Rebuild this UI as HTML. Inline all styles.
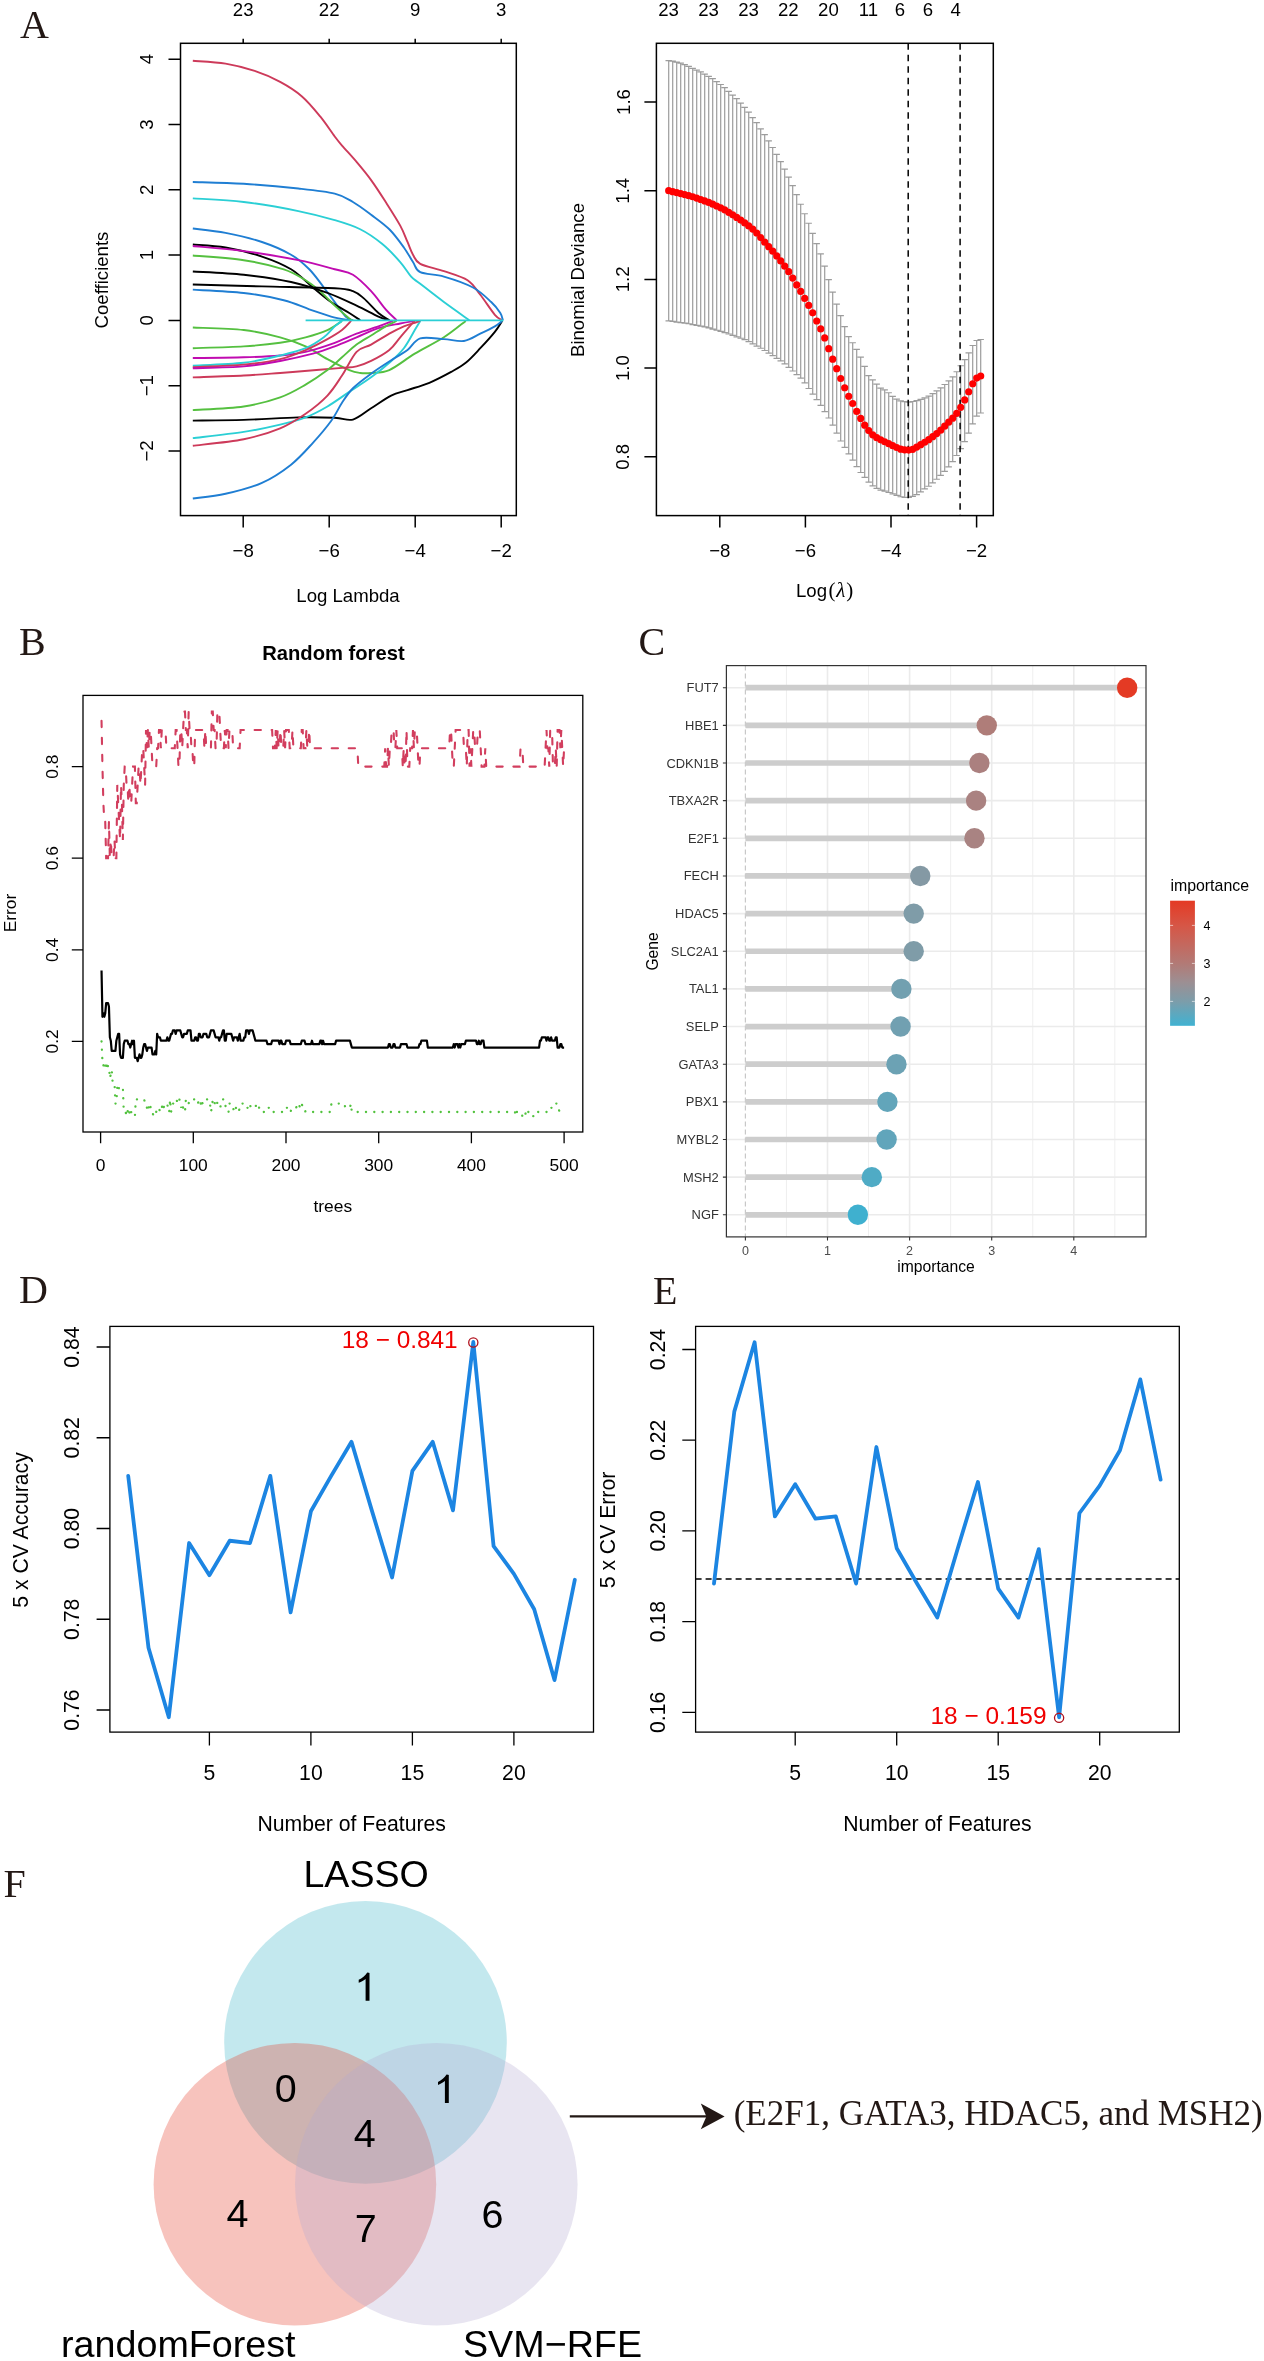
<!DOCTYPE html>
<html><head><meta charset="utf-8"><style>
html,body{margin:0;padding:0;background:#fff;}
svg{display:block;will-change:transform;}
svg{font-family:"Liberation Sans",sans-serif;}
</style></head><body>
<svg width="1264" height="2361" viewBox="0 0 1264 2361">
<rect width="1264" height="2361" fill="#fff"/>
<text x="20" y="38" font-size="40" text-anchor="start" fill="#231815" style="font-family:'Liberation Serif'">A</text>
<g fill="none" stroke-width="1.9" stroke-linejoin="round">
<path d="M192.81,60.77 C198.27,61.26 215.25,61.98 225.56,63.68 C235.87,65.38 245.57,67.93 254.67,70.96 C263.77,73.99 272.26,77.63 280.15,81.88 C288.03,86.12 295.31,90.67 301.98,96.43 C308.65,102.2 314.72,109.78 320.17,116.45 C325.63,123.12 331.09,131.61 334.73,136.46 C338.37,141.31 338.37,141.31 342.01,145.56 C345.65,149.81 351.71,156.17 356.56,161.94 C361.42,167.7 366.27,173.46 371.12,180.13 C375.97,186.8 380.82,194.38 385.68,201.97 C390.53,209.55 396.59,218.95 400.23,225.62 C403.87,232.29 405.39,237.14 407.51,241.99 C409.63,246.85 410.85,251.09 412.97,254.73 C415.09,258.37 415.09,261.1 420.25,263.83 C425.4,266.56 436.02,268.38 443.9,271.11 C451.79,273.84 461.49,276.26 467.55,280.2 C473.62,284.15 475.74,289 480.29,294.76 C484.84,300.52 491.21,310.53 494.85,314.77 C498.49,319.02 500.91,319.32 502.13,320.23" stroke="#CD3A5A"/>
<path d="M192.81,181.95 C201.3,182.25 226.17,182.68 243.76,183.77 C261.34,184.86 283.18,186.86 298.34,188.5 C313.5,190.14 325.63,191.35 334.73,193.6 C343.83,195.84 346.86,198.45 352.93,201.97 C358.99,205.48 365.06,210.15 371.12,214.7 C377.19,219.25 383.86,223.8 389.32,229.26 C394.77,234.72 399.93,241.99 403.87,247.45 C407.81,252.91 410.24,257.88 412.97,262.01 C415.7,266.13 415.09,269.77 420.25,272.2 C425.4,274.62 435.11,274.02 443.9,276.56 C452.7,279.11 465.13,283.24 473.01,287.48 C480.9,291.73 486.66,297.79 491.21,302.04 C495.76,306.28 498.36,309.92 500.31,312.95 C502.25,315.99 502.43,319.02 502.85,320.23" stroke="#1F7ED3"/>
<path d="M192.81,198.33 C201.3,198.93 226.17,199.84 243.76,201.97 C261.34,204.09 283.18,208.03 298.34,211.06 C313.5,214.1 324.42,217.13 334.73,220.16 C345.04,223.19 352.32,225.32 360.2,229.26 C368.09,233.2 375.37,238.36 382.04,243.81 C388.71,249.27 395.38,256.55 400.23,262.01 C405.08,267.47 407.81,272.93 411.15,276.56 C414.49,280.2 414.79,279.6 420.25,283.84 C425.71,288.09 435.71,295.97 443.9,302.04 C452.09,308.1 465.13,317.2 469.37,320.23" stroke="#2BCFD5"/>
<path d="M192.81,228.53 C198.27,229.26 214.04,230.65 225.56,232.9 C237.08,235.14 251.03,238.36 261.95,241.99 C272.87,245.63 283.18,250.18 291.06,254.73 C298.95,259.28 303.8,263.83 309.26,269.29 C314.72,274.75 319.57,282.02 323.81,287.48 C328.06,292.94 331.09,297.19 334.73,302.04 C338.37,306.89 342.62,313.56 345.65,316.59 C348.68,319.63 351.71,319.63 352.93,320.23" stroke="#1F7ED3"/>
<path d="M192.81,244.54 C198.27,245.03 214.04,245.45 225.56,247.45 C237.08,249.45 251.03,252.91 261.95,256.55 C272.87,260.19 282.57,264.13 291.06,269.29 C299.55,274.44 306.23,282.02 312.9,287.48 C319.57,292.94 325.03,297.79 331.09,302.04 C337.16,306.28 344.43,309.92 349.29,312.95 C354.14,315.99 358.38,319.02 360.2,320.23" stroke="#000"/>
<path d="M192.81,246 C201.3,246.85 226.17,248.73 243.76,251.09 C261.34,253.46 283.18,257.16 298.34,260.19 C313.5,263.22 325.63,266.86 334.73,269.29 C343.83,271.71 346.86,271.11 352.93,274.75 C358.99,278.38 365.66,285.36 371.12,291.12 C376.58,296.88 381.43,304.46 385.68,309.32 C389.92,314.17 394.77,318.41 396.59,320.23" stroke="#C00BB0"/>
<path d="M192.81,255.46 C201.3,256.25 228.59,257.88 243.76,260.19 C258.92,262.49 273.47,265.95 283.78,269.29 C294.1,272.62 299.55,276.56 305.62,280.2 C311.68,283.84 315.32,286.88 320.17,291.12 C325.03,295.37 329.88,301.13 334.73,305.68 C339.58,310.23 346.25,315.99 349.29,318.41 C352.32,320.84 352.32,319.93 352.93,320.23" stroke="#55C040"/>
<path d="M192.81,271.47 C201.3,272.02 227.38,272.99 243.76,274.75 C260.13,276.5 277.11,278.99 291.06,282.02 C305.01,285.06 316.54,289 327.45,292.94 C338.37,296.88 348.07,301.73 356.56,305.68 C365.06,309.62 372.94,314.17 378.4,316.59 C383.86,319.02 387.5,319.63 389.32,320.23" stroke="#000"/>
<path d="M192.81,284.57 C204.33,284.87 238.3,285.78 261.95,286.39 C285.6,287 319.57,287.42 334.73,288.21 C349.89,289 348.07,289.42 352.93,291.12 C357.78,292.82 359.6,294.76 363.84,298.4 C368.09,302.04 374.15,309.32 378.4,312.95 C382.64,316.59 387.5,319.02 389.32,320.23" stroke="#000"/>
<path d="M192.81,289.67 C201.3,290.21 228.59,291.18 243.76,292.94 C258.92,294.7 272.87,297.49 283.78,300.22 C294.7,302.95 301.37,306.59 309.26,309.32 C317.14,312.05 324.42,314.77 331.09,316.59 C337.76,318.41 346.25,319.63 349.29,320.23" stroke="#1F7ED3"/>
<path d="M192.81,327.48 C201.3,327.91 229.2,328.39 243.76,330.03 C258.31,331.67 269.84,334.58 280.15,337.31 C290.46,340.04 297.73,342.77 305.62,346.4 C313.5,350.04 320.17,355.2 327.45,359.14 C334.73,363.08 343.83,367.75 349.29,370.06 C354.75,372.36 356.56,372.48 360.2,372.97 C363.84,373.45 366.27,373.45 371.12,372.97 C375.97,372.48 382.04,373.27 389.32,370.06 C396.59,366.84 405.69,359.14 414.79,353.68 C423.89,348.22 435.41,342.77 443.9,337.31 C452.39,331.85 462.1,323.66 465.74,320.93" stroke="#55C040"/>
<path d="M192.81,348.22 C201.3,347.92 229.2,347.31 243.76,346.4 C258.31,345.49 269.84,344.28 280.15,342.77 C290.46,341.25 297.73,339.43 305.62,337.31 C313.5,335.18 321.39,332.76 327.45,330.03 C333.52,327.3 339.58,322.45 342.01,320.93" stroke="#55C040"/>
<path d="M192.81,358.05 C201.3,357.93 229.2,357.75 243.76,357.32 C258.31,356.9 269.84,356.41 280.15,355.5 C290.46,354.59 296.52,353.99 305.62,351.86 C314.72,349.74 326.24,345.8 334.73,342.77 C343.22,339.73 349.29,336.4 356.56,333.67 C363.84,330.94 372.33,328.51 378.4,326.39 C384.46,324.27 390.53,321.84 392.95,320.93" stroke="#C00BB0"/>
<path d="M192.81,365.69 C201.3,365.21 229.2,364.48 243.76,362.78 C258.31,361.08 269.84,357.93 280.15,355.5 C290.46,353.08 298.34,351.26 305.62,348.22 C312.9,345.19 318.96,340.95 323.81,337.31 C328.67,333.67 331.7,329.12 334.73,326.39 C337.76,323.66 340.8,321.84 342.01,320.93" stroke="#2BCFD5"/>
<path d="M192.81,367.15 C201.3,366.72 229.2,365.93 243.76,364.6 C258.31,363.27 269.84,361.57 280.15,359.14 C290.46,356.72 297.73,353.38 305.62,350.04 C313.5,346.71 321.39,342.46 327.45,339.13 C333.52,335.79 338.07,333.06 342.01,330.03 C345.95,327 349.59,322.45 351.11,320.93" stroke="#CD3A5A"/>
<path d="M192.81,368.24 C201.3,367.94 229.2,367.63 243.76,366.42 C258.31,365.21 268.62,363.08 280.15,360.96 C291.67,358.84 303.8,356.11 312.9,353.68 C321.99,351.26 327.45,349.13 334.73,346.4 C342.01,343.68 349.29,340.34 356.56,337.31 C363.84,334.27 371.12,330.51 378.4,328.21 C385.68,325.9 394.17,324.69 400.23,323.48 C406.3,322.27 412.36,321.36 414.79,320.93" stroke="#C00BB0"/>
<path d="M192.81,377.34 C201.3,377.03 229.2,376.24 243.76,375.52 C258.31,374.79 268.02,373.88 280.15,372.97 C292.28,372.06 306.23,370.91 316.54,370.06 C326.85,369.21 335.34,368.48 342.01,367.87 C348.68,367.27 351.71,367.57 356.56,366.42 C361.42,365.27 365.66,363.69 371.12,360.96 C376.58,358.23 384.46,353.99 389.32,350.04 C394.17,346.1 396.59,341.55 400.23,337.31 C403.87,333.06 408.72,327.3 411.15,324.57 C413.58,321.84 414.18,321.54 414.79,320.93" stroke="#CD3A5A"/>
<path d="M192.81,410.09 C201.3,409.48 229.2,408.57 243.76,406.45 C258.31,404.33 269.84,400.99 280.15,397.35 C290.46,393.71 297.73,389.16 305.62,384.61 C313.5,380.07 321.39,374.61 327.45,370.06 C333.52,365.51 337.16,361.57 342.01,357.32 C346.86,353.08 351.71,348.22 356.56,344.59 C361.42,340.95 366.27,338.52 371.12,335.49 C375.97,332.46 381.43,328.82 385.68,326.39 C389.92,323.96 394.77,321.84 396.59,320.93" stroke="#55C040"/>
<path d="M192.81,420.64 C201.3,420.52 226.17,420.46 243.76,419.91 C261.34,419.37 283.18,417.73 298.34,417.37 C313.5,417 325.63,417.37 334.73,417.73 C343.83,418.09 346.86,421.13 352.93,419.55 C358.99,417.97 364.75,412.27 371.12,408.27 C377.49,404.26 385.07,398.56 391.14,395.53 C397.2,392.5 401.14,392.2 407.51,390.07 C413.88,387.95 422.07,385.83 429.34,382.79 C436.62,379.76 445.11,375.21 451.18,371.88 C457.24,368.54 460.88,366.72 465.74,362.78 C470.59,358.84 475.44,353.38 480.29,348.22 C485.14,343.07 491.21,336.4 494.85,331.85 C498.49,327.3 500.91,322.75 502.13,320.93" stroke="#000"/>
<path d="M192.81,438.11 C201.3,437.08 229.2,434.17 243.76,431.92 C258.31,429.68 269.84,427.07 280.15,424.64 C290.46,422.22 297.73,420.4 305.62,417.37 C313.5,414.33 320.17,410.69 327.45,406.45 C334.73,402.2 342.01,396.74 349.29,391.89 C356.56,387.04 364.45,382.19 371.12,377.34 C377.79,372.48 383.86,367.63 389.32,362.78 C394.77,357.93 399.63,353.68 403.87,348.22 C408.12,342.77 412.06,334.58 414.79,330.03 C417.52,325.48 419.34,322.45 420.25,320.93" stroke="#2BCFD5"/>
<path d="M192.81,445.75 C201.3,444.66 229.2,442.11 243.76,439.2 C258.31,436.29 269.84,432.53 280.15,428.28 C290.46,424.04 297.73,419.18 305.62,413.73 C313.5,408.27 321.39,401.9 327.45,395.53 C333.52,389.16 337.16,382.79 342.01,375.52 C346.86,368.24 351.71,357.02 356.56,351.86 C361.42,346.71 365.66,347.62 371.12,344.59 C376.58,341.55 383.86,336.7 389.32,333.67 C394.77,330.64 399.63,328.21 403.87,326.39 C408.12,324.57 412.06,323.66 414.79,322.75 C417.52,321.84 419.34,321.23 420.25,320.93" stroke="#CD3A5A"/>
<path d="M192.81,498.52 C198.27,497.73 214.04,496.39 225.56,493.78 C237.08,491.18 251.03,487.72 261.95,482.87 C272.87,478.02 282.57,471.34 291.06,464.67 C299.55,458 306.23,450.12 312.9,442.84 C319.57,435.56 326.24,427.68 331.09,421 C335.94,414.33 338.37,408.27 342.01,402.81 C345.65,397.35 348.07,393.11 352.93,388.25 C357.78,383.4 364.45,378.55 371.12,373.7 C377.79,368.85 386.89,363.08 392.95,359.14 C399.02,355.2 402.96,353.5 407.51,350.04 C412.06,346.59 414.18,340.22 420.25,338.4 C426.31,336.58 436.62,338.7 443.9,339.13 C451.18,339.55 457.85,341.86 463.92,340.95 C469.98,340.04 475.14,336.09 480.29,333.67 C485.45,331.24 491.21,328.51 494.85,326.39 C498.49,324.27 500.91,321.84 502.13,320.93" stroke="#1F7ED3"/>
<path d="M305.6,320.4 H503.5" stroke="#2BCFD5"/>
</g>
<rect x="180.5" y="43.3" width="335.8" height="472.3" fill="none" stroke="#000" stroke-width="1.5"/>
<path d="M243.2,515.6 V527.6 M243.2,43.3 V38.8 M329.2,515.6 V527.6 M329.2,43.3 V38.8 M415.2,515.6 V527.6 M415.2,43.3 V38.8 M501.2,515.6 V527.6 M501.2,43.3 V38.8 M180.5,451 H168.5 M180.5,385.7 H168.5 M180.5,320.4 H168.5 M180.5,255.1 H168.5 M180.5,189.8 H168.5 M180.5,124.5 H168.5 M180.5,59.2 H168.5 " stroke="#000" stroke-width="1.5"/>
<text x="243.2" y="557" font-size="18.6" text-anchor="middle" fill="#000">&#8722;8</text>
<text x="329.2" y="557" font-size="18.6" text-anchor="middle" fill="#000">&#8722;6</text>
<text x="415.2" y="557" font-size="18.6" text-anchor="middle" fill="#000">&#8722;4</text>
<text x="501.2" y="557" font-size="18.6" text-anchor="middle" fill="#000">&#8722;2</text>
<text x="243.2" y="16.3" font-size="18.6" text-anchor="middle" fill="#000">23</text>
<text x="329.2" y="16.3" font-size="18.6" text-anchor="middle" fill="#000">22</text>
<text x="415.2" y="16.3" font-size="18.6" text-anchor="middle" fill="#000">9</text>
<text x="501.2" y="16.3" font-size="18.6" text-anchor="middle" fill="#000">3</text>
<text x="153" y="451" font-size="18.6" text-anchor="middle" fill="#000" transform="rotate(-90 153 451)">&#8722;2</text>
<text x="153" y="385.7" font-size="18.6" text-anchor="middle" fill="#000" transform="rotate(-90 153 385.7)">&#8722;1</text>
<text x="153" y="320.4" font-size="18.6" text-anchor="middle" fill="#000" transform="rotate(-90 153 320.4)">0</text>
<text x="153" y="255.1" font-size="18.6" text-anchor="middle" fill="#000" transform="rotate(-90 153 255.1)">1</text>
<text x="153" y="189.8" font-size="18.6" text-anchor="middle" fill="#000" transform="rotate(-90 153 189.8)">2</text>
<text x="153" y="124.5" font-size="18.6" text-anchor="middle" fill="#000" transform="rotate(-90 153 124.5)">3</text>
<text x="153" y="59.2" font-size="18.6" text-anchor="middle" fill="#000" transform="rotate(-90 153 59.2)">4</text>
<text x="348" y="601.5" font-size="18.6" text-anchor="middle" fill="#000">Log Lambda</text>
<text x="108" y="280" font-size="18.6" text-anchor="middle" fill="#000" transform="rotate(-90 108 280)">Coefficients</text>
<path d="M668.7,60.6 V320.9 M665.5,60.6 H671.9 M665.5,320.9 H671.9 M672.7,61.12 V321.47 M669.5,61.12 H675.9 M669.5,321.47 H675.9 M676.7,62.03 V322.03 M673.5,62.03 H679.9 M673.5,322.03 H679.9 M680.7,63.1 V322.6 M677.5,63.1 H683.9 M677.5,322.6 H683.9 M684.7,64.66 V323.16 M681.5,64.66 H687.9 M681.5,323.16 H687.9 M688.7,66.46 V323.74 M685.5,66.46 H691.9 M685.5,323.74 H691.9 M692.7,68.4 V324.54 M689.5,68.4 H695.9 M689.5,324.54 H695.9 M696.7,70.17 V325.34 M693.5,70.17 H699.9 M693.5,325.34 H699.9 M700.7,71.92 V326.14 M697.5,71.92 H703.9 M697.5,326.14 H703.9 M704.7,74.22 V326.94 M701.5,74.22 H707.9 M701.5,326.94 H707.9 M708.7,76.34 V327.86 M705.5,76.34 H711.9 M705.5,327.86 H711.9 M712.7,78.63 V329.06 M709.5,78.63 H715.9 M709.5,329.06 H715.9 M716.7,81.55 V330.26 M713.5,81.55 H719.9 M713.5,330.26 H719.9 M720.7,84.5 V331.46 M717.5,84.5 H723.9 M717.5,331.46 H723.9 M724.7,87.72 V332.66 M721.5,87.72 H727.9 M721.5,332.66 H727.9 M728.7,91.4 V333.98 M725.5,91.4 H731.9 M725.5,333.98 H731.9 M732.7,95.09 V335.4 M729.5,95.09 H735.9 M729.5,335.4 H735.9 M736.7,98.6 V336.82 M733.5,98.6 H739.9 M733.5,336.82 H739.9 M740.7,103.11 V338.23 M737.5,103.11 H743.9 M737.5,338.23 H743.9 M744.7,107.34 V339.65 M741.5,107.34 H747.9 M741.5,339.65 H747.9 M748.7,112.2 V341.71 M745.5,112.2 H751.9 M745.5,341.71 H751.9 M752.7,117.53 V343.9 M749.5,117.53 H755.9 M749.5,343.9 H755.9 M756.7,122.7 V346.09 M753.5,122.7 H759.9 M753.5,346.09 H759.9 M760.7,128.84 V348.27 M757.5,128.84 H763.9 M757.5,348.27 H763.9 M764.7,134.6 V350.5 M761.5,134.6 H767.9 M761.5,350.5 H767.9 M768.7,140.84 V353.11 M765.5,140.84 H771.9 M765.5,353.11 H771.9 M772.7,147.5 V355.72 M769.5,147.5 H775.9 M769.5,355.72 H775.9 M776.7,154.4 V358.33 M773.5,154.4 H779.9 M773.5,358.33 H779.9 M780.7,161.6 V360.94 M777.5,161.6 H783.9 M777.5,360.94 H783.9 M784.7,169.1 V363.86 M781.5,169.1 H787.9 M781.5,363.86 H787.9 M788.7,177.1 V367.44 M785.5,177.1 H791.9 M785.5,367.44 H791.9 M792.7,185.7 V371.02 M789.5,185.7 H795.9 M789.5,371.02 H795.9 M796.7,194.6 V374.6 M793.5,194.6 H799.9 M793.5,374.6 H799.9 M800.7,204.24 V378.18 M797.5,204.24 H803.9 M797.5,378.18 H803.9 M804.7,213.74 V382.92 M801.5,213.74 H807.9 M801.5,382.92 H807.9 M808.7,223.25 V388.52 M805.5,223.25 H811.9 M805.5,388.52 H811.9 M812.7,233.31 V394.12 M809.5,233.31 H815.9 M809.5,394.12 H815.9 M816.7,243.57 V399.72 M813.5,243.57 H819.9 M813.5,399.72 H819.9 M820.7,253.91 V405.32 M817.5,253.91 H823.9 M817.5,405.32 H823.9 M824.7,266.17 V411.58 M821.5,266.17 H827.9 M821.5,411.58 H827.9 M828.7,279.54 V417.98 M825.5,279.54 H831.9 M825.5,417.98 H831.9 M832.7,292.2 V425.1 M829.5,292.2 H835.9 M829.5,425.1 H835.9 M836.7,304.08 V433.1 M833.5,304.08 H839.9 M833.5,433.1 H839.9 M840.7,315.68 V440.98 M837.5,315.68 H843.9 M837.5,440.98 H843.9 M844.7,326.66 V447.38 M841.5,326.66 H847.9 M841.5,447.38 H847.9 M848.7,336.7 V453.78 M845.5,336.7 H851.9 M845.5,453.78 H851.9 M852.7,342.73 V460.18 M849.5,342.73 H855.9 M849.5,460.18 H855.9 M856.7,349.32 V466.58 M853.5,349.32 H859.9 M853.5,466.58 H859.9 M860.7,357.12 V472.48 M857.5,357.12 H863.9 M857.5,472.48 H863.9 M864.7,366.41 V477.33 M861.5,366.41 H867.9 M861.5,477.33 H867.9 M868.7,375.67 V482.18 M865.5,375.67 H871.9 M865.5,482.18 H871.9 M872.7,379.8 V485.83 M869.5,379.8 H875.9 M869.5,485.83 H875.9 M876.7,384.12 V488.31 M873.5,384.12 H879.9 M873.5,488.31 H879.9 M880.7,388.16 V490.08 M877.5,388.16 H883.9 M877.5,490.08 H883.9 M884.7,389.91 V491.19 M881.5,389.91 H887.9 M881.5,491.19 H887.9 M888.7,392.74 V492.5 M885.5,392.74 H891.9 M885.5,492.5 H891.9 M892.7,396.29 V493.86 M889.5,396.29 H895.9 M889.5,493.86 H895.9 M896.7,399.1 V495.42 M893.5,399.1 H899.9 M893.5,495.42 H899.9 M900.7,400.87 V496.77 M897.5,400.87 H903.9 M897.5,496.77 H903.9 M904.7,401.66 V497.5 M901.5,401.66 H907.9 M901.5,497.5 H907.9 M908.7,402.04 V497.39 M905.5,402.04 H911.9 M905.5,497.39 H911.9 M912.7,401.52 V496.42 M909.5,401.52 H915.9 M909.5,496.42 H915.9 M916.7,400.67 V494.63 M913.5,400.67 H919.9 M913.5,494.63 H919.9 M920.7,399.33 V491.87 M917.5,399.33 H923.9 M917.5,491.87 H923.9 M924.7,397.86 V488.93 M921.5,397.86 H927.9 M921.5,488.93 H927.9 M928.7,396.09 V486.23 M925.5,396.09 H931.9 M925.5,486.23 H931.9 M932.7,393.6 V482.8 M929.5,393.6 H935.9 M929.5,482.8 H935.9 M936.7,390.9 V479.27 M933.5,390.9 H939.9 M933.5,479.27 H939.9 M940.7,387.97 V475.3 M937.5,387.97 H943.9 M937.5,475.3 H943.9 M944.7,384.51 V471.29 M941.5,384.51 H947.9 M941.5,471.29 H947.9 M948.7,380.9 V466.82 M945.5,380.9 H951.9 M945.5,466.82 H951.9 M952.7,376.78 V461.65 M949.5,376.78 H955.9 M949.5,461.65 H955.9 M956.7,371.75 V455.52 M953.5,371.75 H959.9 M953.5,455.52 H959.9 M960.7,365.73 V448.72 M957.5,365.73 H963.9 M957.5,448.72 H963.9 M964.7,359.57 V441.58 M961.5,359.57 H967.9 M961.5,441.58 H967.9 M968.7,352.97 V433.21 M965.5,352.97 H971.9 M965.5,433.21 H971.9 M972.7,345.48 V423.81 M969.5,345.48 H975.9 M969.5,423.81 H975.9 M976.7,340.52 V416.09 M973.5,340.52 H979.9 M973.5,416.09 H979.9 M980.7,339.5 V413 M977.5,339.5 H983.9 M977.5,413 H983.9 " stroke="#9C9C9C" stroke-width="1.2" fill="none"/>
<path d="M908.2,43.3 V515.6" stroke="#000" stroke-width="1.5" stroke-dasharray="6.5,5"/>
<path d="M960.1,43.3 V515.6" stroke="#000" stroke-width="1.5" stroke-dasharray="6.5,5"/>
<g fill="#FF0000">
<circle cx="668.7" cy="190.7" r="3.6"/>
<circle cx="672.7" cy="191.66" r="3.6"/>
<circle cx="676.7" cy="192.62" r="3.6"/>
<circle cx="680.7" cy="193.58" r="3.6"/>
<circle cx="684.7" cy="194.57" r="3.6"/>
<circle cx="688.7" cy="195.63" r="3.6"/>
<circle cx="692.7" cy="196.77" r="3.6"/>
<circle cx="696.7" cy="198.12" r="3.6"/>
<circle cx="700.7" cy="199.49" r="3.6"/>
<circle cx="704.7" cy="200.91" r="3.6"/>
<circle cx="708.7" cy="202.43" r="3.6"/>
<circle cx="712.7" cy="204.2" r="3.6"/>
<circle cx="716.7" cy="205.99" r="3.6"/>
<circle cx="720.7" cy="207.82" r="3.6"/>
<circle cx="724.7" cy="209.85" r="3.6"/>
<circle cx="728.7" cy="212.28" r="3.6"/>
<circle cx="732.7" cy="214.79" r="3.6"/>
<circle cx="736.7" cy="217.42" r="3.6"/>
<circle cx="740.7" cy="220.11" r="3.6"/>
<circle cx="744.7" cy="222.9" r="3.6"/>
<circle cx="748.7" cy="225.88" r="3.6"/>
<circle cx="752.7" cy="229.12" r="3.6"/>
<circle cx="756.7" cy="232.98" r="3.6"/>
<circle cx="760.7" cy="237.61" r="3.6"/>
<circle cx="764.7" cy="242.13" r="3.6"/>
<circle cx="768.7" cy="246.64" r="3.6"/>
<circle cx="772.7" cy="251.15" r="3.6"/>
<circle cx="776.7" cy="255.96" r="3.6"/>
<circle cx="780.7" cy="260.93" r="3.6"/>
<circle cx="784.7" cy="266.2" r="3.6"/>
<circle cx="788.7" cy="271.7" r="3.6"/>
<circle cx="792.7" cy="278.1" r="3.6"/>
<circle cx="796.7" cy="284.9" r="3.6"/>
<circle cx="800.7" cy="291.38" r="3.6"/>
<circle cx="804.7" cy="298.38" r="3.6"/>
<circle cx="808.7" cy="305.38" r="3.6"/>
<circle cx="812.7" cy="312.81" r="3.6"/>
<circle cx="816.7" cy="320.99" r="3.6"/>
<circle cx="820.7" cy="328.95" r="3.6"/>
<circle cx="824.7" cy="337.94" r="3.6"/>
<circle cx="828.7" cy="348.67" r="3.6"/>
<circle cx="832.7" cy="359.21" r="3.6"/>
<circle cx="836.7" cy="368.65" r="3.6"/>
<circle cx="840.7" cy="378.5" r="3.6"/>
<circle cx="844.7" cy="387.73" r="3.6"/>
<circle cx="848.7" cy="396.26" r="3.6"/>
<circle cx="852.7" cy="403.5" r="3.6"/>
<circle cx="856.7" cy="411.45" r="3.6"/>
<circle cx="860.7" cy="418.41" r="3.6"/>
<circle cx="864.7" cy="425.21" r="3.6"/>
<circle cx="868.7" cy="430.54" r="3.6"/>
<circle cx="872.7" cy="434.87" r="3.6"/>
<circle cx="876.7" cy="437.7" r="3.6"/>
<circle cx="880.7" cy="439.81" r="3.6"/>
<circle cx="884.7" cy="441.75" r="3.6"/>
<circle cx="888.7" cy="443.72" r="3.6"/>
<circle cx="892.7" cy="445.7" r="3.6"/>
<circle cx="896.7" cy="447.52" r="3.6"/>
<circle cx="900.7" cy="449.16" r="3.6"/>
<circle cx="904.7" cy="449.83" r="3.6"/>
<circle cx="908.7" cy="450.04" r="3.6"/>
<circle cx="912.7" cy="449.37" r="3.6"/>
<circle cx="916.7" cy="447.05" r="3.6"/>
<circle cx="920.7" cy="444.69" r="3.6"/>
<circle cx="924.7" cy="442.25" r="3.6"/>
<circle cx="928.7" cy="439.65" r="3.6"/>
<circle cx="932.7" cy="436.71" r="3.6"/>
<circle cx="936.7" cy="433.55" r="3.6"/>
<circle cx="940.7" cy="430.18" r="3.6"/>
<circle cx="944.7" cy="426.2" r="3.6"/>
<circle cx="948.7" cy="422.2" r="3.6"/>
<circle cx="952.7" cy="418.15" r="3.6"/>
<circle cx="956.7" cy="413.47" r="3.6"/>
<circle cx="960.7" cy="407.37" r="3.6"/>
<circle cx="964.7" cy="399.89" r="3.6"/>
<circle cx="968.7" cy="391.76" r="3.6"/>
<circle cx="972.7" cy="383.74" r="3.6"/>
<circle cx="976.7" cy="378.04" r="3.6"/>
<circle cx="980.7" cy="376" r="3.6"/>
</g>
<rect x="656.4" y="43.3" width="336.9" height="472.3" fill="none" stroke="#000" stroke-width="1.5"/>
<path d="M719.8,515.6 V527.6 M805.4,515.6 V527.6 M891,515.6 V527.6 M976.6,515.6 V527.6 M656.4,456.8 H644.4 M656.4,368.1 H644.4 M656.4,279.4 H644.4 M656.4,190.7 H644.4 M656.4,102 H644.4 " stroke="#000" stroke-width="1.5"/>
<text x="719.8" y="557" font-size="18.6" text-anchor="middle" fill="#000">&#8722;8</text>
<text x="805.4" y="557" font-size="18.6" text-anchor="middle" fill="#000">&#8722;6</text>
<text x="891" y="557" font-size="18.6" text-anchor="middle" fill="#000">&#8722;4</text>
<text x="976.6" y="557" font-size="18.6" text-anchor="middle" fill="#000">&#8722;2</text>
<text x="668.6" y="16.3" font-size="18.6" text-anchor="middle" fill="#000">23</text>
<text x="708.6" y="16.3" font-size="18.6" text-anchor="middle" fill="#000">23</text>
<text x="748.6" y="16.3" font-size="18.6" text-anchor="middle" fill="#000">23</text>
<text x="788.3" y="16.3" font-size="18.6" text-anchor="middle" fill="#000">22</text>
<text x="828.4" y="16.3" font-size="18.6" text-anchor="middle" fill="#000">20</text>
<text x="868.4" y="16.3" font-size="18.6" text-anchor="middle" fill="#000">11</text>
<text x="900" y="16.3" font-size="18.6" text-anchor="middle" fill="#000">6</text>
<text x="928" y="16.3" font-size="18.6" text-anchor="middle" fill="#000">6</text>
<text x="955.7" y="16.3" font-size="18.6" text-anchor="middle" fill="#000">4</text>
<text x="629.5" y="456.8" font-size="18.6" text-anchor="middle" fill="#000" transform="rotate(-90 629.5 456.8)">0.8</text>
<text x="629.5" y="368.1" font-size="18.6" text-anchor="middle" fill="#000" transform="rotate(-90 629.5 368.1)">1.0</text>
<text x="629.5" y="279.4" font-size="18.6" text-anchor="middle" fill="#000" transform="rotate(-90 629.5 279.4)">1.2</text>
<text x="629.5" y="190.7" font-size="18.6" text-anchor="middle" fill="#000" transform="rotate(-90 629.5 190.7)">1.4</text>
<text x="629.5" y="102" font-size="18.6" text-anchor="middle" fill="#000" transform="rotate(-90 629.5 102)">1.6</text>
<text x="796" y="597" font-size="18.6" text-anchor="start" fill="#000">Log<tspan style="font-family:'Liberation Serif'" font-size="21" dx="1.5">(<tspan font-style="italic" dx="0.8">&#955;</tspan><tspan dx="0.8">)</tspan></tspan></text>
<text x="584" y="280" font-size="18.6" text-anchor="middle" fill="#000" transform="rotate(-90 584 280)">Binomial Deviance</text>
<text x="18.9" y="654.7" font-size="40" text-anchor="start" fill="#231815" style="font-family:'Liberation Serif'">B</text>
<path d="M101.53,720.8 L102.45,766.6 L103.38,803.24 L104.31,821.56 L105.23,821.56 L106.16,858.2 L107.09,858.2 L108.02,858.2 L108.94,821.56 L109.87,858.2 L110.8,839.88 L111.72,858.2 L112.65,858.2 L113.58,858.2 L114.5,839.88 L115.43,858.2 L116.36,858.2 L117.29,784.92 L118.21,803.24 L119.14,821.56 L120.07,839.88 L120.99,784.92 L121.92,803.24 L122.85,839.88 L123.77,784.92 L124.7,766.6 L125.63,766.6 L126.56,784.92 L127.48,784.92 L128.41,803.24 L129.34,784.92 L130.26,803.24 L131.19,803.24 L132.12,784.92 L133.04,766.6 L133.97,766.6 L134.9,766.6 L135.83,803.24 L136.75,803.24 L137.68,784.92 L138.61,766.6 L139.53,766.6 L140.46,784.92 L141.39,766.6 L142.31,748.28 L143.24,748.28 L144.17,766.6 L145.1,784.92 L146.02,729.96 L146.95,748.28 L147.88,729.96 L148.8,748.28 L149.73,729.96 L150.66,729.96 L151.58,748.28 L152.51,766.6 L153.44,766.6 L154.37,766.6 L155.29,766.6 L156.22,766.6 L157.15,748.28 L158.07,748.28 L159,729.96 L159.93,729.96 L160.85,748.28 L161.78,729.96 L162.71,729.96 L163.64,729.96 L164.56,729.96 L165.49,729.96 L166.42,748.28 L167.34,748.28 L168.27,748.28 L169.2,748.28 L170.12,748.28 L171.05,748.28 L171.98,748.28 L172.91,748.28 L173.83,748.28 L174.76,748.28 L175.69,729.96 L176.61,729.96 L177.54,748.28 L178.47,766.6 L179.39,766.6 L180.32,729.96 L181.25,729.96 L182.18,748.28 L183.1,729.96 L184.03,711.64 L184.96,711.64 L185.88,729.96 L186.81,729.96 L187.74,748.28 L188.66,711.64 L189.59,729.96 L190.52,729.96 L191.45,748.28 L192.37,748.28 L193.3,766.6 L194.23,766.6 L195.15,729.96 L196.08,729.96 L197.01,729.96 L197.94,729.96 L198.86,729.96 L199.79,729.96 L200.72,729.96 L201.64,729.96 L202.57,729.96 L203.5,729.96 L204.42,748.28 L205.35,729.96 L206.28,748.28 L207.2,748.28 L208.13,748.28 L209.06,748.28 L209.99,748.28 L210.91,748.28 L211.84,711.64 L212.77,711.64 L213.69,729.96 L214.62,729.96 L215.55,748.28 L216.47,748.28 L217.4,711.64 L218.33,711.64 L219.26,711.64 L220.18,729.96 L221.11,748.28 L222.04,748.28 L222.96,748.28 L223.89,748.28 L224.82,729.96 L225.75,748.28 L226.67,729.96 L227.6,729.96 L228.53,748.28 L229.45,729.96 L230.38,729.96 L231.31,729.96 L232.23,729.96 L233.16,748.28 L234.09,748.28 L235.02,748.28 L235.94,748.28 L236.87,748.28 L237.8,748.28 L238.72,748.28 L239.65,748.28 L240.58,729.96 L241.5,729.96 L242.43,729.96 L243.36,729.96 L244.28,729.96 L245.21,729.96 L246.14,729.96 L247.07,729.96 L247.99,729.96 L248.92,729.96 L249.85,729.96 L250.77,729.96 L251.7,729.96 L252.63,729.96 L253.56,729.96 L254.48,729.96 L255.41,729.96 L256.34,729.96 L257.26,729.96 L258.19,729.96 L259.12,729.96 L260.04,729.96 L260.97,729.96 L261.9,729.96 L262.82,729.96 L263.75,729.96 L264.68,729.96 L265.61,729.96 L266.53,729.96 L267.46,729.96 L268.39,729.96 L269.31,729.96 L270.24,729.96 L271.17,729.96 L272.1,729.96 L273.02,748.28 L273.95,748.28 L274.88,748.28 L275.8,729.96 L276.73,748.28 L277.66,729.96 L278.58,748.28 L279.51,748.28 L280.44,729.96 L281.37,748.28 L282.29,748.28 L283.22,748.28 L284.15,729.96 L285.07,748.28 L286,729.96 L286.93,729.96 L287.85,729.96 L288.78,729.96 L289.71,748.28 L290.63,748.28 L291.56,748.28 L292.49,729.96 L293.42,748.28 L294.34,748.28 L295.27,748.28 L296.2,748.28 L297.12,748.28 L298.05,748.28 L298.98,748.28 L299.9,748.28 L300.83,748.28 L301.76,729.96 L302.69,729.96 L303.61,748.28 L304.54,748.28 L305.47,748.28 L306.39,729.96 L307.32,748.28 L308.25,748.28 L309.18,729.96 L310.1,748.28 L311.03,748.28 L311.96,748.28 L312.88,748.28 L313.81,748.28 L314.74,748.28 L315.66,748.28 L316.59,748.28 L317.52,748.28 L318.44,748.28 L319.37,748.28 L320.3,748.28 L321.23,748.28 L322.15,748.28 L323.08,748.28 L324.01,748.28 L324.93,748.28 L325.86,748.28 L326.79,748.28 L327.72,748.28 L328.64,748.28 L329.57,748.28 L330.5,748.28 L331.42,748.28 L332.35,748.28 L333.28,748.28 L334.2,748.28 L335.13,748.28 L336.06,748.28 L336.99,748.28 L337.91,748.28 L338.84,748.28 L339.77,748.28 L340.69,748.28 L341.62,748.28 L342.55,748.28 L343.47,748.28 L344.4,748.28 L345.33,748.28 L346.25,748.28 L347.18,748.28 L348.11,748.28 L349.04,748.28 L349.96,748.28 L350.89,748.28 L351.82,748.28 L352.74,748.28 L353.67,748.28 L354.6,748.28 L355.52,748.28 L356.45,748.28 L357.38,748.28 L358.31,766.6 L359.23,766.6 L360.16,766.6 L361.09,766.6 L362.01,766.6 L362.94,766.6 L363.87,766.6 L364.79,766.6 L365.72,766.6 L366.65,766.6 L367.58,766.6 L368.5,766.6 L369.43,766.6 L370.36,766.6 L371.28,766.6 L372.21,766.6 L373.14,766.6 L374.07,766.6 L374.99,766.6 L375.92,766.6 L376.85,766.6 L377.77,766.6 L378.7,766.6 L379.63,766.6 L380.55,766.6 L381.48,766.6 L382.41,766.6 L383.34,766.6 L384.26,766.6 L385.19,748.28 L386.12,766.6 L387.04,766.6 L387.97,748.28 L388.9,766.6 L389.82,748.28 L390.75,748.28 L391.68,729.96 L392.61,729.96 L393.53,729.96 L394.46,748.28 L395.39,748.28 L396.31,729.96 L397.24,748.28 L398.17,748.28 L399.09,748.28 L400.02,748.28 L400.95,748.28 L401.88,748.28 L402.8,766.6 L403.73,748.28 L404.66,766.6 L405.58,766.6 L406.51,729.96 L407.44,766.6 L408.36,766.6 L409.29,766.6 L410.22,748.28 L411.14,748.28 L412.07,748.28 L413,729.96 L413.93,748.28 L414.85,729.96 L415.78,729.96 L416.71,729.96 L417.63,748.28 L418.56,766.6 L419.49,766.6 L420.41,748.28 L421.34,748.28 L422.27,748.28 L423.2,748.28 L424.12,748.28 L425.05,748.28 L425.98,748.28 L426.9,748.28 L427.83,748.28 L428.76,748.28 L429.69,748.28 L430.61,748.28 L431.54,748.28 L432.47,748.28 L433.39,748.28 L434.32,748.28 L435.25,748.28 L436.17,748.28 L437.1,748.28 L438.03,748.28 L438.96,748.28 L439.88,748.28 L440.81,748.28 L441.74,748.28 L442.66,748.28 L443.59,748.28 L444.52,748.28 L445.44,748.28 L446.37,748.28 L447.3,748.28 L448.23,748.28 L449.15,748.28 L450.08,729.96 L451.01,729.96 L451.93,748.28 L452.86,766.6 L453.79,766.6 L454.71,748.28 L455.64,729.96 L456.57,729.96 L457.5,729.96 L458.42,729.96 L459.35,729.96 L460.28,729.96 L461.2,729.96 L462.13,729.96 L463.06,729.96 L463.98,748.28 L464.91,748.28 L465.84,748.28 L466.76,766.6 L467.69,729.96 L468.62,729.96 L469.55,766.6 L470.47,748.28 L471.4,766.6 L472.33,748.28 L473.25,729.96 L474.18,729.96 L475.11,748.28 L476.03,748.28 L476.96,748.28 L477.89,729.96 L478.82,729.96 L479.74,729.96 L480.67,748.28 L481.6,766.6 L482.52,766.6 L483.45,766.6 L484.38,766.6 L485.31,748.28 L486.23,766.6 L487.16,766.6 L488.09,766.6 L489.01,766.6 L489.94,766.6 L490.87,766.6 L491.79,766.6 L492.72,766.6 L493.65,766.6 L494.58,766.6 L495.5,766.6 L496.43,766.6 L497.36,766.6 L498.28,766.6 L499.21,766.6 L500.14,766.6 L501.06,766.6 L501.99,766.6 L502.92,766.6 L503.85,766.6 L504.77,766.6 L505.7,766.6 L506.63,766.6 L507.55,766.6 L508.48,766.6 L509.41,766.6 L510.33,766.6 L511.26,766.6 L512.19,766.6 L513.12,766.6 L514.04,766.6 L514.97,766.6 L515.9,766.6 L516.82,766.6 L517.75,766.6 L518.68,766.6 L519.6,766.6 L520.53,748.28 L521.46,748.28 L522.38,748.28 L523.31,766.6 L524.24,766.6 L525.17,766.6 L526.09,766.6 L527.02,766.6 L527.95,766.6 L528.87,766.6 L529.8,766.6 L530.73,766.6 L531.65,766.6 L532.58,766.6 L533.51,766.6 L534.44,766.6 L535.36,766.6 L536.29,766.6 L537.22,766.6 L538.14,766.6 L539.07,766.6 L540,766.6 L540.93,766.6 L541.85,766.6 L542.78,766.6 L543.71,766.6 L544.63,766.6 L545.56,748.28 L546.49,729.96 L547.41,748.28 L548.34,748.28 L549.27,766.6 L550.2,729.96 L551.12,729.96 L552.05,729.96 L552.98,766.6 L553.9,766.6 L554.83,766.6 L555.76,748.28 L556.68,766.6 L557.61,729.96 L558.54,729.96 L559.47,729.96 L560.39,748.28 L561.32,729.96 L562.25,748.28 L563.17,766.6 L564.1,748.28" fill="none" stroke="#D23E5E" stroke-width="2.1" stroke-linecap="round" stroke-dasharray="6.3,10.7"/>
<path d="M101.53,970.41 L102.45,1016.79 L103.38,1013.37 L104.31,1016.79 L105.23,1013.37 L106.16,1003.12 L107.09,1003.12 L108.02,1003.12 L108.94,1006.54 L109.87,1037.3 L110.8,1040.72 L111.72,1050.97 L112.65,1050.97 L113.58,1050.97 L114.5,1050.97 L115.43,1050.97 L116.36,1040.72 L117.29,1037.3 L118.21,1033.88 L119.14,1033.88 L120.07,1054.39 L120.99,1057.81 L121.92,1057.81 L122.85,1057.81 L123.77,1044.13 L124.7,1040.72 L125.63,1040.72 L126.56,1040.72 L127.48,1040.72 L128.41,1044.13 L129.34,1044.13 L130.26,1047.55 L131.19,1044.13 L132.12,1040.72 L133.04,1044.13 L133.97,1040.72 L134.9,1057.81 L135.83,1057.81 L136.75,1057.81 L137.68,1061.22 L138.61,1057.81 L139.53,1054.39 L140.46,1057.81 L141.39,1057.81 L142.31,1054.39 L143.24,1047.55 L144.17,1044.13 L145.1,1044.13 L146.02,1047.55 L146.95,1050.97 L147.88,1047.55 L148.8,1047.55 L149.73,1047.55 L150.66,1047.55 L151.58,1047.55 L152.51,1054.39 L153.44,1054.39 L154.37,1054.39 L155.29,1050.97 L156.22,1054.39 L157.15,1033.88 L158.07,1037.3 L159,1037.3 L159.93,1037.3 L160.85,1040.72 L161.78,1040.72 L162.71,1040.72 L163.64,1040.72 L164.56,1040.72 L165.49,1040.72 L166.42,1040.72 L167.34,1037.3 L168.27,1040.72 L169.2,1040.72 L170.12,1037.3 L171.05,1033.88 L171.98,1033.88 L172.91,1030.46 L173.83,1030.46 L174.76,1030.46 L175.69,1033.88 L176.61,1030.46 L177.54,1030.46 L178.47,1030.46 L179.39,1030.46 L180.32,1030.46 L181.25,1033.88 L182.18,1037.3 L183.1,1037.3 L184.03,1033.88 L184.96,1033.88 L185.88,1033.88 L186.81,1033.88 L187.74,1030.46 L188.66,1030.46 L189.59,1030.46 L190.52,1030.46 L191.45,1040.72 L192.37,1040.72 L193.3,1040.72 L194.23,1040.72 L195.15,1037.3 L196.08,1037.3 L197.01,1040.72 L197.94,1040.72 L198.86,1033.88 L199.79,1033.88 L200.72,1037.3 L201.64,1037.3 L202.57,1037.3 L203.5,1033.88 L204.42,1033.88 L205.35,1033.88 L206.28,1033.88 L207.2,1037.3 L208.13,1037.3 L209.06,1037.3 L209.99,1033.88 L210.91,1030.46 L211.84,1030.46 L212.77,1030.46 L213.69,1030.46 L214.62,1033.88 L215.55,1037.3 L216.47,1037.3 L217.4,1037.3 L218.33,1037.3 L219.26,1040.72 L220.18,1037.3 L221.11,1037.3 L222.04,1033.88 L222.96,1030.46 L223.89,1030.46 L224.82,1040.72 L225.75,1040.72 L226.67,1033.88 L227.6,1033.88 L228.53,1033.88 L229.45,1033.88 L230.38,1033.88 L231.31,1033.88 L232.23,1037.3 L233.16,1040.72 L234.09,1037.3 L235.02,1037.3 L235.94,1037.3 L236.87,1037.3 L237.8,1040.72 L238.72,1037.3 L239.65,1033.88 L240.58,1040.72 L241.5,1040.72 L242.43,1040.72 L243.36,1040.72 L244.28,1037.3 L245.21,1037.3 L246.14,1030.46 L247.07,1030.46 L247.99,1030.46 L248.92,1033.88 L249.85,1030.46 L250.77,1030.46 L251.7,1030.46 L252.63,1030.46 L253.56,1033.88 L254.48,1037.3 L255.41,1040.72 L256.34,1040.72 L257.26,1040.72 L258.19,1040.72 L259.12,1040.72 L260.04,1040.72 L260.97,1040.72 L261.9,1040.72 L262.82,1040.72 L263.75,1040.72 L264.68,1040.72 L265.61,1040.72 L266.53,1040.72 L267.46,1044.13 L268.39,1044.13 L269.31,1044.13 L270.24,1044.13 L271.17,1044.13 L272.1,1040.72 L273.02,1040.72 L273.95,1040.72 L274.88,1040.72 L275.8,1040.72 L276.73,1040.72 L277.66,1040.72 L278.58,1040.72 L279.51,1044.13 L280.44,1040.72 L281.37,1040.72 L282.29,1044.13 L283.22,1044.13 L284.15,1044.13 L285.07,1044.13 L286,1040.72 L286.93,1040.72 L287.85,1040.72 L288.78,1040.72 L289.71,1040.72 L290.63,1044.13 L291.56,1044.13 L292.49,1044.13 L293.42,1044.13 L294.34,1044.13 L295.27,1044.13 L296.2,1044.13 L297.12,1044.13 L298.05,1044.13 L298.98,1044.13 L299.9,1044.13 L300.83,1044.13 L301.76,1040.72 L302.69,1040.72 L303.61,1040.72 L304.54,1040.72 L305.47,1044.13 L306.39,1044.13 L307.32,1044.13 L308.25,1044.13 L309.18,1044.13 L310.1,1044.13 L311.03,1044.13 L311.96,1040.72 L312.88,1044.13 L313.81,1044.13 L314.74,1044.13 L315.66,1044.13 L316.59,1044.13 L317.52,1044.13 L318.44,1044.13 L319.37,1044.13 L320.3,1040.72 L321.23,1040.72 L322.15,1044.13 L323.08,1040.72 L324.01,1044.13 L324.93,1044.13 L325.86,1044.13 L326.79,1044.13 L327.72,1044.13 L328.64,1044.13 L329.57,1044.13 L330.5,1044.13 L331.42,1044.13 L332.35,1044.13 L333.28,1044.13 L334.2,1044.13 L335.13,1044.13 L336.06,1040.72 L336.99,1040.72 L337.91,1040.72 L338.84,1040.72 L339.77,1040.72 L340.69,1040.72 L341.62,1040.72 L342.55,1040.72 L343.47,1040.72 L344.4,1040.72 L345.33,1040.72 L346.25,1040.72 L347.18,1040.72 L348.11,1040.72 L349.04,1040.72 L349.96,1040.72 L350.89,1044.13 L351.82,1047.55 L352.74,1047.55 L353.67,1047.55 L354.6,1047.55 L355.52,1047.55 L356.45,1047.55 L357.38,1047.55 L358.31,1047.55 L359.23,1047.55 L360.16,1047.55 L361.09,1047.55 L362.01,1047.55 L362.94,1047.55 L363.87,1047.55 L364.79,1047.55 L365.72,1047.55 L366.65,1047.55 L367.58,1047.55 L368.5,1047.55 L369.43,1047.55 L370.36,1047.55 L371.28,1047.55 L372.21,1047.55 L373.14,1047.55 L374.07,1047.55 L374.99,1047.55 L375.92,1047.55 L376.85,1047.55 L377.77,1047.55 L378.7,1047.55 L379.63,1047.55 L380.55,1047.55 L381.48,1047.55 L382.41,1047.55 L383.34,1047.55 L384.26,1047.55 L385.19,1047.55 L386.12,1047.55 L387.04,1047.55 L387.97,1047.55 L388.9,1044.13 L389.82,1044.13 L390.75,1047.55 L391.68,1047.55 L392.61,1047.55 L393.53,1044.13 L394.46,1044.13 L395.39,1047.55 L396.31,1047.55 L397.24,1047.55 L398.17,1047.55 L399.09,1047.55 L400.02,1047.55 L400.95,1044.13 L401.88,1044.13 L402.8,1044.13 L403.73,1044.13 L404.66,1044.13 L405.58,1044.13 L406.51,1044.13 L407.44,1047.55 L408.36,1047.55 L409.29,1047.55 L410.22,1047.55 L411.14,1047.55 L412.07,1047.55 L413,1047.55 L413.93,1047.55 L414.85,1047.55 L415.78,1047.55 L416.71,1047.55 L417.63,1047.55 L418.56,1047.55 L419.49,1044.13 L420.41,1044.13 L421.34,1040.72 L422.27,1040.72 L423.2,1040.72 L424.12,1040.72 L425.05,1040.72 L425.98,1040.72 L426.9,1040.72 L427.83,1047.55 L428.76,1047.55 L429.69,1047.55 L430.61,1047.55 L431.54,1047.55 L432.47,1047.55 L433.39,1047.55 L434.32,1047.55 L435.25,1047.55 L436.17,1047.55 L437.1,1047.55 L438.03,1047.55 L438.96,1047.55 L439.88,1047.55 L440.81,1047.55 L441.74,1047.55 L442.66,1047.55 L443.59,1047.55 L444.52,1047.55 L445.44,1047.55 L446.37,1047.55 L447.3,1047.55 L448.23,1047.55 L449.15,1047.55 L450.08,1047.55 L451.01,1047.55 L451.93,1047.55 L452.86,1047.55 L453.79,1044.13 L454.71,1047.55 L455.64,1044.13 L456.57,1044.13 L457.5,1044.13 L458.42,1047.55 L459.35,1044.13 L460.28,1047.55 L461.2,1044.13 L462.13,1044.13 L463.06,1044.13 L463.98,1044.13 L464.91,1044.13 L465.84,1040.72 L466.76,1040.72 L467.69,1040.72 L468.62,1040.72 L469.55,1040.72 L470.47,1040.72 L471.4,1040.72 L472.33,1040.72 L473.25,1040.72 L474.18,1040.72 L475.11,1040.72 L476.03,1040.72 L476.96,1044.13 L477.89,1044.13 L478.82,1040.72 L479.74,1044.13 L480.67,1044.13 L481.6,1040.72 L482.52,1040.72 L483.45,1040.72 L484.38,1047.55 L485.31,1047.55 L486.23,1047.55 L487.16,1047.55 L488.09,1047.55 L489.01,1047.55 L489.94,1047.55 L490.87,1047.55 L491.79,1047.55 L492.72,1047.55 L493.65,1047.55 L494.58,1047.55 L495.5,1047.55 L496.43,1047.55 L497.36,1047.55 L498.28,1047.55 L499.21,1047.55 L500.14,1047.55 L501.06,1047.55 L501.99,1047.55 L502.92,1047.55 L503.85,1047.55 L504.77,1047.55 L505.7,1047.55 L506.63,1047.55 L507.55,1047.55 L508.48,1047.55 L509.41,1047.55 L510.33,1047.55 L511.26,1047.55 L512.19,1047.55 L513.12,1047.55 L514.04,1047.55 L514.97,1047.55 L515.9,1047.55 L516.82,1047.55 L517.75,1047.55 L518.68,1047.55 L519.6,1047.55 L520.53,1047.55 L521.46,1047.55 L522.38,1047.55 L523.31,1047.55 L524.24,1047.55 L525.17,1047.55 L526.09,1047.55 L527.02,1047.55 L527.95,1047.55 L528.87,1047.55 L529.8,1047.55 L530.73,1047.55 L531.65,1047.55 L532.58,1047.55 L533.51,1047.55 L534.44,1047.55 L535.36,1047.55 L536.29,1047.55 L537.22,1047.55 L538.14,1047.55 L539.07,1047.55 L540,1040.72 L540.93,1040.72 L541.85,1037.3 L542.78,1037.3 L543.71,1037.3 L544.63,1037.3 L545.56,1037.3 L546.49,1040.72 L547.41,1037.3 L548.34,1037.3 L549.27,1040.72 L550.2,1040.72 L551.12,1037.3 L552.05,1040.72 L552.98,1040.72 L553.9,1040.72 L554.83,1040.72 L555.76,1037.3 L556.68,1037.3 L557.61,1047.55 L558.54,1047.55 L559.47,1047.55 L560.39,1044.13 L561.32,1044.13 L562.25,1047.55 L563.17,1047.55 L564.1,1047.55" fill="none" stroke="#000" stroke-width="2.2" stroke-linejoin="round"/>
<path d="M101.53,1041.4 L102.45,1061.57 L103.38,1065.77 L104.31,1061.57 L105.23,1065.77 L106.16,1061.57 L107.09,1069.97 L108.02,1065.77 L108.94,1065.77 L109.87,1078.38 L110.8,1074.17 L111.72,1069.97 L112.65,1082.58 L113.58,1082.58 L114.5,1082.58 L115.43,1103.59 L116.36,1103.59 L117.29,1086.78 L118.21,1090.98 L119.14,1086.78 L120.07,1086.78 L120.99,1086.78 L121.92,1086.78 L122.85,1086.78 L123.77,1111.99 L124.7,1111.99 L125.63,1111.99 L126.56,1116.19 L127.48,1111.99 L128.41,1107.79 L129.34,1111.99 L130.26,1116.19 L131.19,1111.99 L132.12,1116.19 L133.04,1116.19 L133.97,1116.19 L134.9,1116.19 L135.83,1099.39 L136.75,1099.39 L137.68,1099.39 L138.61,1099.39 L139.53,1099.39 L140.46,1099.39 L141.39,1099.39 L142.31,1099.39 L143.24,1099.39 L144.17,1099.39 L145.1,1103.59 L146.02,1103.59 L146.95,1107.79 L147.88,1103.59 L148.8,1107.79 L149.73,1103.59 L150.66,1107.79 L151.58,1107.79 L152.51,1111.99 L153.44,1116.19 L154.37,1116.19 L155.29,1111.99 L156.22,1111.99 L157.15,1107.79 L158.07,1107.79 L159,1107.79 L159.93,1111.99 L160.85,1111.99 L161.78,1107.79 L162.71,1103.59 L163.64,1107.79 L164.56,1103.59 L165.49,1103.59 L166.42,1103.59 L167.34,1103.59 L168.27,1111.99 L169.2,1111.99 L170.12,1099.39 L171.05,1111.99 L171.98,1107.79 L172.91,1103.59 L173.83,1103.59 L174.76,1099.39 L175.69,1099.39 L176.61,1099.39 L177.54,1103.59 L178.47,1099.39 L179.39,1099.39 L180.32,1103.59 L181.25,1107.79 L182.18,1103.59 L183.1,1107.79 L184.03,1111.99 L184.96,1111.99 L185.88,1099.39 L186.81,1099.39 L187.74,1103.59 L188.66,1103.59 L189.59,1099.39 L190.52,1099.39 L191.45,1099.39 L192.37,1099.39 L193.3,1099.39 L194.23,1099.39 L195.15,1099.39 L196.08,1099.39 L197.01,1099.39 L197.94,1103.59 L198.86,1099.39 L199.79,1099.39 L200.72,1103.59 L201.64,1099.39 L202.57,1103.59 L203.5,1103.59 L204.42,1099.39 L205.35,1099.39 L206.28,1099.39 L207.2,1099.39 L208.13,1103.59 L209.06,1103.59 L209.99,1103.59 L210.91,1111.99 L211.84,1107.79 L212.77,1099.39 L213.69,1099.39 L214.62,1103.59 L215.55,1099.39 L216.47,1099.39 L217.4,1103.59 L218.33,1103.59 L219.26,1107.79 L220.18,1107.79 L221.11,1103.59 L222.04,1103.59 L222.96,1099.39 L223.89,1099.39 L224.82,1099.39 L225.75,1107.79 L226.67,1111.99 L227.6,1111.99 L228.53,1111.99 L229.45,1103.59 L230.38,1103.59 L231.31,1103.59 L232.23,1103.59 L233.16,1107.79 L234.09,1111.99 L235.02,1107.79 L235.94,1107.79 L236.87,1111.99 L237.8,1111.99 L238.72,1111.99 L239.65,1107.79 L240.58,1103.59 L241.5,1103.59 L242.43,1103.59 L243.36,1103.59 L244.28,1103.59 L245.21,1103.59 L246.14,1103.59 L247.07,1107.79 L247.99,1107.79 L248.92,1103.59 L249.85,1103.59 L250.77,1107.79 L251.7,1107.79 L252.63,1107.79 L253.56,1107.79 L254.48,1107.79 L255.41,1107.79 L256.34,1103.59 L257.26,1103.59 L258.19,1103.59 L259.12,1107.79 L260.04,1107.79 L260.97,1111.99 L261.9,1111.99 L262.82,1111.99 L263.75,1111.99 L264.68,1111.99 L265.61,1111.99 L266.53,1111.99 L267.46,1111.99 L268.39,1107.79 L269.31,1107.79 L270.24,1107.79 L271.17,1107.79 L272.1,1107.79 L273.02,1111.99 L273.95,1111.99 L274.88,1111.99 L275.8,1111.99 L276.73,1111.99 L277.66,1111.99 L278.58,1111.99 L279.51,1111.99 L280.44,1111.99 L281.37,1111.99 L282.29,1111.99 L283.22,1107.79 L284.15,1107.79 L285.07,1107.79 L286,1107.79 L286.93,1107.79 L287.85,1107.79 L288.78,1107.79 L289.71,1107.79 L290.63,1111.99 L291.56,1107.79 L292.49,1107.79 L293.42,1107.79 L294.34,1107.79 L295.27,1107.79 L296.2,1107.79 L297.12,1103.59 L298.05,1103.59 L298.98,1103.59 L299.9,1107.79 L300.83,1107.79 L301.76,1103.59 L302.69,1107.79 L303.61,1107.79 L304.54,1107.79 L305.47,1111.99 L306.39,1111.99 L307.32,1111.99 L308.25,1111.99 L309.18,1111.99 L310.1,1111.99 L311.03,1111.99 L311.96,1111.99 L312.88,1111.99 L313.81,1111.99 L314.74,1111.99 L315.66,1111.99 L316.59,1111.99 L317.52,1111.99 L318.44,1111.99 L319.37,1111.99 L320.3,1111.99 L321.23,1111.99 L322.15,1111.99 L323.08,1111.99 L324.01,1111.99 L324.93,1111.99 L325.86,1111.99 L326.79,1111.99 L327.72,1111.99 L328.64,1111.99 L329.57,1111.99 L330.5,1111.99 L331.42,1103.59 L332.35,1103.59 L333.28,1103.59 L334.2,1103.59 L335.13,1103.59 L336.06,1103.59 L336.99,1103.59 L337.91,1103.59 L338.84,1103.59 L339.77,1103.59 L340.69,1103.59 L341.62,1103.59 L342.55,1103.59 L343.47,1103.59 L344.4,1103.59 L345.33,1107.79 L346.25,1107.79 L347.18,1107.79 L348.11,1107.79 L349.04,1107.79 L349.96,1107.79 L350.89,1103.59 L351.82,1111.99 L352.74,1111.99 L353.67,1111.99 L354.6,1111.99 L355.52,1111.99 L356.45,1111.99 L357.38,1111.99 L358.31,1111.99 L359.23,1111.99 L360.16,1111.99 L361.09,1111.99 L362.01,1111.99 L362.94,1111.99 L363.87,1111.99 L364.79,1111.99 L365.72,1111.99 L366.65,1111.99 L367.58,1111.99 L368.5,1111.99 L369.43,1111.99 L370.36,1111.99 L371.28,1111.99 L372.21,1111.99 L373.14,1111.99 L374.07,1111.99 L374.99,1111.99 L375.92,1111.99 L376.85,1111.99 L377.77,1111.99 L378.7,1111.99 L379.63,1111.99 L380.55,1111.99 L381.48,1111.99 L382.41,1111.99 L383.34,1111.99 L384.26,1111.99 L385.19,1111.99 L386.12,1111.99 L387.04,1111.99 L387.97,1111.99 L388.9,1111.99 L389.82,1111.99 L390.75,1111.99 L391.68,1111.99 L392.61,1111.99 L393.53,1111.99 L394.46,1111.99 L395.39,1111.99 L396.31,1111.99 L397.24,1111.99 L398.17,1111.99 L399.09,1111.99 L400.02,1111.99 L400.95,1111.99 L401.88,1111.99 L402.8,1111.99 L403.73,1111.99 L404.66,1111.99 L405.58,1111.99 L406.51,1111.99 L407.44,1111.99 L408.36,1111.99 L409.29,1111.99 L410.22,1111.99 L411.14,1111.99 L412.07,1111.99 L413,1111.99 L413.93,1111.99 L414.85,1111.99 L415.78,1111.99 L416.71,1111.99 L417.63,1111.99 L418.56,1111.99 L419.49,1111.99 L420.41,1111.99 L421.34,1111.99 L422.27,1111.99 L423.2,1111.99 L424.12,1111.99 L425.05,1111.99 L425.98,1111.99 L426.9,1111.99 L427.83,1111.99 L428.76,1111.99 L429.69,1111.99 L430.61,1111.99 L431.54,1111.99 L432.47,1111.99 L433.39,1111.99 L434.32,1111.99 L435.25,1111.99 L436.17,1111.99 L437.1,1111.99 L438.03,1111.99 L438.96,1111.99 L439.88,1111.99 L440.81,1111.99 L441.74,1111.99 L442.66,1111.99 L443.59,1111.99 L444.52,1111.99 L445.44,1111.99 L446.37,1111.99 L447.3,1111.99 L448.23,1111.99 L449.15,1111.99 L450.08,1111.99 L451.01,1111.99 L451.93,1111.99 L452.86,1111.99 L453.79,1111.99 L454.71,1111.99 L455.64,1111.99 L456.57,1111.99 L457.5,1111.99 L458.42,1111.99 L459.35,1111.99 L460.28,1111.99 L461.2,1111.99 L462.13,1111.99 L463.06,1111.99 L463.98,1111.99 L464.91,1111.99 L465.84,1111.99 L466.76,1111.99 L467.69,1111.99 L468.62,1111.99 L469.55,1111.99 L470.47,1111.99 L471.4,1111.99 L472.33,1111.99 L473.25,1111.99 L474.18,1111.99 L475.11,1111.99 L476.03,1111.99 L476.96,1111.99 L477.89,1111.99 L478.82,1111.99 L479.74,1111.99 L480.67,1111.99 L481.6,1111.99 L482.52,1111.99 L483.45,1111.99 L484.38,1111.99 L485.31,1111.99 L486.23,1111.99 L487.16,1111.99 L488.09,1111.99 L489.01,1111.99 L489.94,1111.99 L490.87,1111.99 L491.79,1111.99 L492.72,1111.99 L493.65,1111.99 L494.58,1111.99 L495.5,1111.99 L496.43,1111.99 L497.36,1111.99 L498.28,1111.99 L499.21,1111.99 L500.14,1111.99 L501.06,1111.99 L501.99,1111.99 L502.92,1111.99 L503.85,1111.99 L504.77,1111.99 L505.7,1111.99 L506.63,1111.99 L507.55,1111.99 L508.48,1111.99 L509.41,1111.99 L510.33,1111.99 L511.26,1111.99 L512.19,1111.99 L513.12,1111.99 L514.04,1111.99 L514.97,1111.99 L515.9,1116.19 L516.82,1111.99 L517.75,1111.99 L518.68,1111.99 L519.6,1111.99 L520.53,1111.99 L521.46,1111.99 L522.38,1116.19 L523.31,1116.19 L524.24,1111.99 L525.17,1111.99 L526.09,1116.19 L527.02,1116.19 L527.95,1111.99 L528.87,1111.99 L529.8,1111.99 L530.73,1111.99 L531.65,1111.99 L532.58,1116.19 L533.51,1116.19 L534.44,1116.19 L535.36,1116.19 L536.29,1116.19 L537.22,1111.99 L538.14,1111.99 L539.07,1111.99 L540,1111.99 L540.93,1111.99 L541.85,1111.99 L542.78,1111.99 L543.71,1111.99 L544.63,1111.99 L545.56,1111.99 L546.49,1111.99 L547.41,1111.99 L548.34,1111.99 L549.27,1107.79 L550.2,1107.79 L551.12,1107.79 L552.05,1107.79 L552.98,1103.59 L553.9,1103.59 L554.83,1103.59 L555.76,1103.59 L556.68,1103.59 L557.61,1107.79 L558.54,1107.79 L559.47,1111.99 L560.39,1111.99 L561.32,1111.99 L562.25,1111.99 L563.17,1111.99 L564.1,1111.99" fill="none" stroke="#52C23E" stroke-width="2.3" stroke-linecap="round" stroke-dasharray="0.1,8.2"/>
<rect x="83" y="695.4" width="499.8" height="436.6" fill="none" stroke="#000" stroke-width="1.3"/>
<path d="M100.6,1132 V1143.2 M193.3,1132 V1143.2 M286,1132 V1143.2 M378.7,1132 V1143.2 M471.4,1132 V1143.2 M564.1,1132 V1143.2 M83,1041.4 H71.8 M83,949.8 H71.8 M83,858.2 H71.8 M83,766.6 H71.8 " stroke="#000" stroke-width="1.3"/>
<text x="100.6" y="1171" font-size="17.4" text-anchor="middle" fill="#000">0</text>
<text x="193.3" y="1171" font-size="17.4" text-anchor="middle" fill="#000">100</text>
<text x="286" y="1171" font-size="17.4" text-anchor="middle" fill="#000">200</text>
<text x="378.7" y="1171" font-size="17.4" text-anchor="middle" fill="#000">300</text>
<text x="471.4" y="1171" font-size="17.4" text-anchor="middle" fill="#000">400</text>
<text x="564.1" y="1171" font-size="17.4" text-anchor="middle" fill="#000">500</text>
<text x="57.9" y="1041.4" font-size="17.4" text-anchor="middle" fill="#000" transform="rotate(-90 57.9 1041.4)">0.2</text>
<text x="57.9" y="949.8" font-size="17.4" text-anchor="middle" fill="#000" transform="rotate(-90 57.9 949.8)">0.4</text>
<text x="57.9" y="858.2" font-size="17.4" text-anchor="middle" fill="#000" transform="rotate(-90 57.9 858.2)">0.6</text>
<text x="57.9" y="766.6" font-size="17.4" text-anchor="middle" fill="#000" transform="rotate(-90 57.9 766.6)">0.8</text>
<text x="332.8" y="1211.9" font-size="17.4" text-anchor="middle" fill="#000">trees</text>
<text x="15.7" y="913" font-size="17.4" text-anchor="middle" fill="#000" transform="rotate(-90 15.7 913)">Error</text>
<text x="333.4" y="659.5" font-size="20.2" text-anchor="middle" fill="#000" font-weight="bold">Random forest</text>
<text x="638.6" y="655" font-size="40" text-anchor="start" fill="#231815" style="font-family:'Liberation Serif'">C</text>
<path d="M786.45,665.6 V1236.9 M868.55,665.6 V1236.9 M950.65,665.6 V1236.9 M1032.75,665.6 V1236.9 M1114.85,665.6 V1236.9 " stroke="#EFEFEF" stroke-width="1"/>
<path d="M827.5,665.6 V1236.9 M909.6,665.6 V1236.9 M991.7,665.6 V1236.9 M1073.8,665.6 V1236.9 M726.4,687.7 H1146 M726.4,725.35 H1146 M726.4,763 H1146 M726.4,800.65 H1146 M726.4,838.3 H1146 M726.4,875.95 H1146 M726.4,913.6 H1146 M726.4,951.25 H1146 M726.4,988.9 H1146 M726.4,1026.55 H1146 M726.4,1064.2 H1146 M726.4,1101.85 H1146 M726.4,1139.5 H1146 M726.4,1177.15 H1146 M726.4,1214.8 H1146 " stroke="#EBEBEB" stroke-width="1.6"/>
<path d="M745.4,665.6 V1236.9" stroke="#C8C8C8" stroke-width="1.2" stroke-dasharray="5,3"/>
<path d="M745.4,687.7 H1127.16 M745.4,725.35 H986.77 M745.4,763 H979.38 M745.4,800.65 H976.1 M745.4,838.3 H974.46 M745.4,875.95 H920.27 M745.4,913.6 H913.7 M745.4,951.25 H913.7 M745.4,988.9 H901.39 M745.4,1026.55 H900.57 M745.4,1064.2 H896.46 M745.4,1101.85 H887.43 M745.4,1139.5 H886.61 M745.4,1177.15 H871.83 M745.4,1214.8 H857.88 " stroke="#CDCDCD" stroke-width="5.7"/>
<circle cx="1127.16" cy="687.7" r="10.2" fill="#E43A24"/>
<circle cx="986.77" cy="725.35" r="10.2" fill="#AF7D79"/>
<circle cx="979.38" cy="763" r="10.2" fill="#AB807F"/>
<circle cx="976.1" cy="800.65" r="10.2" fill="#AA8281"/>
<circle cx="974.46" cy="838.3" r="10.2" fill="#A98382"/>
<circle cx="920.27" cy="875.95" r="10.2" fill="#8499A4"/>
<circle cx="913.7" cy="913.6" r="10.2" fill="#7F9CA8"/>
<circle cx="913.7" cy="951.25" r="10.2" fill="#7F9CA8"/>
<circle cx="901.39" cy="988.9" r="10.2" fill="#72A0B0"/>
<circle cx="900.57" cy="1026.55" r="10.2" fill="#71A0B1"/>
<circle cx="896.46" cy="1064.2" r="10.2" fill="#6CA2B4"/>
<circle cx="887.43" cy="1101.85" r="10.2" fill="#62A5BA"/>
<circle cx="886.61" cy="1139.5" r="10.2" fill="#61A5BB"/>
<circle cx="871.83" cy="1177.15" r="10.2" fill="#4FABC5"/>
<circle cx="857.88" cy="1214.8" r="10.2" fill="#3FB0CF"/>
<rect x="726.4" y="665.6" width="419.6" height="571.3" fill="none" stroke="#333" stroke-width="1.2"/>
<path d="M726.4,687.7 H722.9 M726.4,725.35 H722.9 M726.4,763 H722.9 M726.4,800.65 H722.9 M726.4,838.3 H722.9 M726.4,875.95 H722.9 M726.4,913.6 H722.9 M726.4,951.25 H722.9 M726.4,988.9 H722.9 M726.4,1026.55 H722.9 M726.4,1064.2 H722.9 M726.4,1101.85 H722.9 M726.4,1139.5 H722.9 M726.4,1177.15 H722.9 M726.4,1214.8 H722.9 M745.4,1236.9 V1240.4 M827.5,1236.9 V1240.4 M909.6,1236.9 V1240.4 M991.7,1236.9 V1240.4 M1073.8,1236.9 V1240.4 " stroke="#333" stroke-width="1.1"/>
<text x="718.8" y="692.2" font-size="12.9" text-anchor="end" fill="#333333">FUT7</text>
<text x="718.8" y="729.85" font-size="12.9" text-anchor="end" fill="#333333">HBE1</text>
<text x="718.8" y="767.5" font-size="12.9" text-anchor="end" fill="#333333">CDKN1B</text>
<text x="718.8" y="805.15" font-size="12.9" text-anchor="end" fill="#333333">TBXA2R</text>
<text x="718.8" y="842.8" font-size="12.9" text-anchor="end" fill="#333333">E2F1</text>
<text x="718.8" y="880.45" font-size="12.9" text-anchor="end" fill="#333333">FECH</text>
<text x="718.8" y="918.1" font-size="12.9" text-anchor="end" fill="#333333">HDAC5</text>
<text x="718.8" y="955.75" font-size="12.9" text-anchor="end" fill="#333333">SLC2A1</text>
<text x="718.8" y="993.4" font-size="12.9" text-anchor="end" fill="#333333">TAL1</text>
<text x="718.8" y="1031.05" font-size="12.9" text-anchor="end" fill="#333333">SELP</text>
<text x="718.8" y="1068.7" font-size="12.9" text-anchor="end" fill="#333333">GATA3</text>
<text x="718.8" y="1106.35" font-size="12.9" text-anchor="end" fill="#333333">PBX1</text>
<text x="718.8" y="1144" font-size="12.9" text-anchor="end" fill="#333333">MYBL2</text>
<text x="718.8" y="1181.65" font-size="12.9" text-anchor="end" fill="#333333">MSH2</text>
<text x="718.8" y="1219.3" font-size="12.9" text-anchor="end" fill="#333333">NGF</text>
<text x="745.4" y="1254.8" font-size="12.5" text-anchor="middle" fill="#4D4D4D">0</text>
<text x="827.5" y="1254.8" font-size="12.5" text-anchor="middle" fill="#4D4D4D">1</text>
<text x="909.6" y="1254.8" font-size="12.5" text-anchor="middle" fill="#4D4D4D">2</text>
<text x="991.7" y="1254.8" font-size="12.5" text-anchor="middle" fill="#4D4D4D">3</text>
<text x="1073.8" y="1254.8" font-size="12.5" text-anchor="middle" fill="#4D4D4D">4</text>
<text x="936" y="1272.2" font-size="15.7" text-anchor="middle" fill="#000">importance</text>
<text x="658.3" y="951.5" font-size="15.6" text-anchor="middle" fill="#000" transform="rotate(-90 658.3 951.5)">Gene</text>
<defs><linearGradient id="cg" x1="0" y1="1" x2="0" y2="0"><stop offset="0" stop-color="#40B2D2"/><stop offset="0.195" stop-color="#7C9DAA"/><stop offset="0.347" stop-color="#9C8F93"/><stop offset="0.498" stop-color="#B27A76"/><stop offset="0.802" stop-color="#D65646"/><stop offset="1" stop-color="#E43A24"/></linearGradient></defs>
<rect x="1170.1" y="900.7" width="24.8" height="125.1" fill="url(#cg)"/>
<path d="M1170.1,1001.4 h3 M1191.9,1001.4 h3 M1170.1,963.4 h3 M1191.9,963.4 h3 M1170.1,925.4 h3 M1191.9,925.4 h3 " stroke="#FFFFFF" stroke-opacity="0.6" stroke-width="1"/>
<text x="1203.5" y="1005.8" font-size="12.5" text-anchor="start" fill="#000">2</text>
<text x="1203.5" y="967.8" font-size="12.5" text-anchor="start" fill="#000">3</text>
<text x="1203.5" y="929.8" font-size="12.5" text-anchor="start" fill="#000">4</text>
<text x="1170.4" y="890.9" font-size="15.9" text-anchor="start" fill="#000">importance</text>
<text x="18.9" y="1303.4" font-size="40" text-anchor="start" fill="#231815" style="font-family:'Liberation Serif'">D</text>
<path d="M128.2,1475.87 L148.5,1647.84 L168.8,1717.26 L189.1,1543.02 L209.4,1575.24 L229.7,1540.75 L250,1543.02 L270.3,1475.87 L290.6,1612.44 L310.9,1511.26 L331.2,1475.87 L351.5,1441.83 L371.8,1510.35 L392.1,1577.5 L412.4,1470.87 L432.7,1441.83 L453,1510.35 L473.3,1342.01 L493.6,1546.2 L513.9,1573.87 L534.2,1609.27 L554.5,1680.05 L574.8,1579.77" fill="none" stroke="#1C85E2" stroke-width="3.8" stroke-linejoin="round" stroke-linecap="round"/>
<circle cx="473.3" cy="1342.51" r="4.6" fill="none" stroke="#B0101C" stroke-width="1.3"/>
<text x="457.7" y="1347.8" font-size="24.4" text-anchor="end" fill="#F00000">18 &#8722; 0.841</text>
<rect x="109.9" y="1326.4" width="483.6" height="405.7" fill="none" stroke="#000" stroke-width="1.3"/>
<path d="M209.4,1732.1 V1745.4 M310.9,1732.1 V1745.4 M412.4,1732.1 V1745.4 M513.9,1732.1 V1745.4 M109.9,1710 H96.6 M109.9,1619.25 H96.6 M109.9,1528.5 H96.6 M109.9,1437.75 H96.6 M109.9,1347 H96.6 " stroke="#000" stroke-width="1.3"/>
<text x="209.4" y="1779.8" font-size="21.2" text-anchor="middle" fill="#000">5</text>
<text x="310.9" y="1779.8" font-size="21.2" text-anchor="middle" fill="#000">10</text>
<text x="412.4" y="1779.8" font-size="21.2" text-anchor="middle" fill="#000">15</text>
<text x="513.9" y="1779.8" font-size="21.2" text-anchor="middle" fill="#000">20</text>
<text x="79.3" y="1710" font-size="21.2" text-anchor="middle" fill="#000" transform="rotate(-90 79.3 1710)">0.76</text>
<text x="79.3" y="1619.25" font-size="21.2" text-anchor="middle" fill="#000" transform="rotate(-90 79.3 1619.25)">0.78</text>
<text x="79.3" y="1528.5" font-size="21.2" text-anchor="middle" fill="#000" transform="rotate(-90 79.3 1528.5)">0.80</text>
<text x="79.3" y="1437.75" font-size="21.2" text-anchor="middle" fill="#000" transform="rotate(-90 79.3 1437.75)">0.82</text>
<text x="79.3" y="1347" font-size="21.2" text-anchor="middle" fill="#000" transform="rotate(-90 79.3 1347)">0.84</text>
<text x="351.7" y="1830.8" font-size="21.2" text-anchor="middle" fill="#000">Number of Features</text>
<text x="27.8" y="1530" font-size="21.2" text-anchor="middle" fill="#000" transform="rotate(-90 27.8 1530)">5 x CV Accuracy</text>
<text x="652.9" y="1303.8" font-size="40" text-anchor="start" fill="#231815" style="font-family:'Liberation Serif'">E</text>
<path d="M695.6,1579 H1179.3" stroke="#000" stroke-width="1.5" stroke-dasharray="6,4"/>
<path d="M714,1583.56 L734.3,1411.64 L754.6,1342.24 L774.9,1516.42 L795.2,1484.22 L815.5,1518.69 L835.8,1516.42 L856.1,1583.56 L876.4,1447.02 L896.7,1548.18 L917,1583.56 L937.3,1617.58 L957.6,1549.08 L977.9,1481.95 L998.2,1588.55 L1018.5,1617.58 L1038.8,1549.08 L1059.1,1717.37 L1079.4,1513.25 L1099.7,1485.58 L1120,1450.2 L1140.3,1379.44 L1160.6,1479.68" fill="none" stroke="#1C85E2" stroke-width="3.8" stroke-linejoin="round" stroke-linecap="round"/>
<circle cx="1059.1" cy="1717.87" r="4.6" fill="none" stroke="#B0101C" stroke-width="1.3"/>
<text x="1046.5" y="1723.8" font-size="24.4" text-anchor="end" fill="#F00000">18 &#8722; 0.159</text>
<rect x="695.6" y="1326.4" width="483.7" height="405.7" fill="none" stroke="#000" stroke-width="1.3"/>
<path d="M795.2,1732.1 V1745.4 M896.7,1732.1 V1745.4 M998.2,1732.1 V1745.4 M1099.7,1732.1 V1745.4 M695.6,1712.38 H682.3 M695.6,1621.66 H682.3 M695.6,1530.94 H682.3 M695.6,1440.22 H682.3 M695.6,1349.5 H682.3 " stroke="#000" stroke-width="1.3"/>
<text x="795.2" y="1779.8" font-size="21.2" text-anchor="middle" fill="#000">5</text>
<text x="896.7" y="1779.8" font-size="21.2" text-anchor="middle" fill="#000">10</text>
<text x="998.2" y="1779.8" font-size="21.2" text-anchor="middle" fill="#000">15</text>
<text x="1099.7" y="1779.8" font-size="21.2" text-anchor="middle" fill="#000">20</text>
<text x="664.8" y="1712.38" font-size="21.2" text-anchor="middle" fill="#000" transform="rotate(-90 664.8 1712.38)">0.16</text>
<text x="664.8" y="1621.66" font-size="21.2" text-anchor="middle" fill="#000" transform="rotate(-90 664.8 1621.66)">0.18</text>
<text x="664.8" y="1530.94" font-size="21.2" text-anchor="middle" fill="#000" transform="rotate(-90 664.8 1530.94)">0.20</text>
<text x="664.8" y="1440.22" font-size="21.2" text-anchor="middle" fill="#000" transform="rotate(-90 664.8 1440.22)">0.22</text>
<text x="664.8" y="1349.5" font-size="21.2" text-anchor="middle" fill="#000" transform="rotate(-90 664.8 1349.5)">0.24</text>
<text x="937.45" y="1830.8" font-size="21.2" text-anchor="middle" fill="#000">Number of Features</text>
<text x="615.4" y="1530" font-size="21.2" text-anchor="middle" fill="#000" transform="rotate(-90 615.4 1530)">5 x CV Error</text>
<text x="3.5" y="1896.9" font-size="40" text-anchor="start" fill="#231815" style="font-family:'Liberation Serif'">F</text>
<circle cx="365.5" cy="2042.4" r="141.3" fill="rgb(55,178,198)" fill-opacity="0.3"/>
<circle cx="294.9" cy="2184.2" r="141.3" fill="rgb(228,55,38)" fill-opacity="0.3"/>
<circle cx="436.3" cy="2184.2" r="141.3" fill="rgb(178,168,208)" fill-opacity="0.3"/>
<text x="285.8" y="2102.3" font-size="39.5" text-anchor="middle" fill="#000">0</text>
<text x="364.8" y="2146.9" font-size="39.5" text-anchor="middle" fill="#000">4</text>
<text x="237.5" y="2227.4" font-size="39.5" text-anchor="middle" fill="#000">4</text>
<text x="365.7" y="2242.1" font-size="39.5" text-anchor="middle" fill="#000">7</text>
<text x="492.6" y="2227.8" font-size="39.5" text-anchor="middle" fill="#000">6</text>
<path d="M369.5,2000.8 L369.5,1972.9 Q369.15,1972.4 367.25,1972.4 C365.35,1975.3 362.05,1978.3 358.7,1979.8 L358.7,1982.7 C361.55,1981.7 363.95,1980.4 365.6,1978.9 L365.6,2000.8 Z M448.8,2103 L448.8,2075.1 Q448.45,2074.6 446.55,2074.6 C444.65,2077.5 441.35,2080.5 438,2082 L438,2084.9 C440.85,2083.9 443.25,2082.6 444.9,2081.1 L444.9,2103 Z" fill="#000"/>
<text x="366.1" y="1887" font-size="37.6" text-anchor="middle" fill="#000">LASSO</text>
<text x="178.3" y="2356.6" font-size="37.7" text-anchor="middle" fill="#000">randomForest</text>
<text x="552.5" y="2356.6" font-size="37.7" text-anchor="middle" fill="#000">SVM&#8722;RFE</text>
<path d="M569.8,2116.4 H707" stroke="#231815" stroke-width="2.3"/>
<path d="M724.6,2116.4 L700.8,2103.4 L706.4,2116.4 L700.8,2129.2 Z" fill="#231815"/>
<text x="733.7" y="2125.2" font-size="35" text-anchor="start" fill="#231815" style="font-family:'Liberation Serif'">(E2F1, GATA3, HDAC5, and MSH2)</text>
</svg></body></html>
